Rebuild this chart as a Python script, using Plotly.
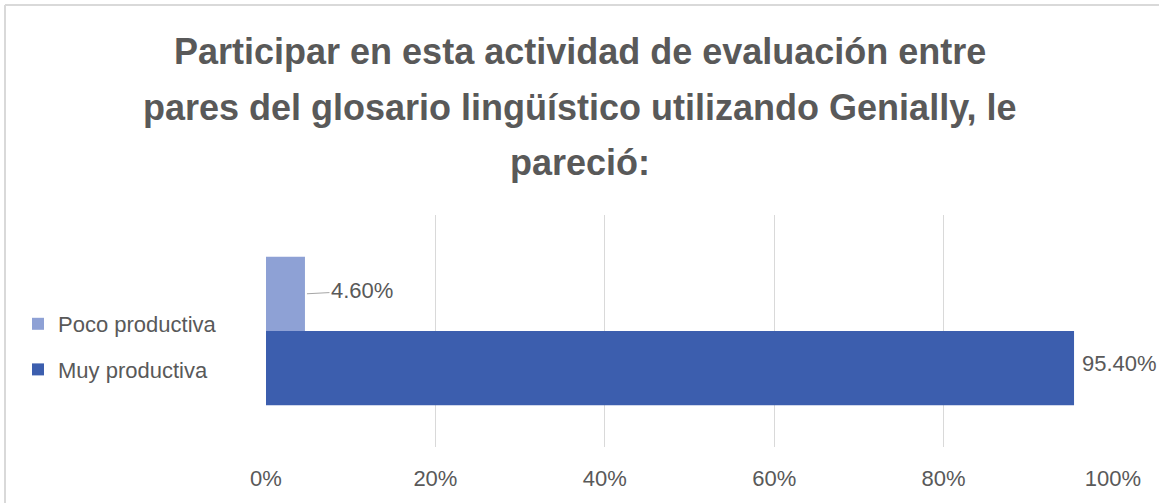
import plotly.graph_objects as go

# Data
series_names = ["Poco productiva", "Muy productiva"]
series_values = [4.6, 95.4]
series_labels = ["4.60%", "95.40%"]
series_colors = ["#8EA1D5", "#3C5EAE"]
tick_values = [0, 20, 40, 60, 80, 100]
tick_labels = ["0%", "20%", "40%", "60%", "80%", "100%"]
title_lines = [
    "Participar en esta actividad de evaluación entre",
    "pares del glosario lingüístico utilizando Genially, le",
    "pareció:",
]

W, H = 1159, 503
L, R, T, B = 266, 46, 215, 56
PW, PH = W - L - R, H - T - B

BAR_W = 0.32
offsets = [0.0, -BAR_W]   # Poco above the centre, Muy below

fig = go.Figure()
for i, (name, val, col) in enumerate(zip(series_names, series_values, series_colors)):
    fig.add_trace(go.Bar(
        name=name,
        x=[val],
        y=[0],
        orientation="h",
        width=[BAR_W],
        offset=[offsets[i]],
        marker=dict(color=col, line=dict(width=0)),
        legendgroup=name,
        hoverinfo="skip",
    ))

font_fam = "Liberation Sans, Arial, sans-serif"
text_col = "#595959"

annotations = []
# Poco productiva: label with leader line
annotations.append(dict(
    x=series_values[0], y=offsets[0] + BAR_W / 2, xref="x", yref="y",
    text=series_labels[0], showarrow=True, arrowhead=0, arrowwidth=1,
    arrowcolor="#A6A6A6", ax=57, ay=-3, standoff=2,
    font=dict(family=font_fam, size=22, color=text_col),
))
# Muy productiva: plain label to the right
annotations.append(dict(
    x=series_values[1], y=offsets[1] + BAR_W / 2, xref="x", yref="y",
    text=series_labels[1], showarrow=False, xanchor="left", yanchor="middle",
    xshift=6, yshift=5, font=dict(family=font_fam, size=22, color=text_col),
))
# Title lines
title_font = dict(family=font_fam, size=36, color=text_col)
for k, line in enumerate(title_lines):
    py = 52 + 55 * k
    annotations.append(dict(
        x=(W / 2 - L) / PW, y=(H - B - py) / PH, xref="paper", yref="paper",
        text=f"<b>{line}</b>", showarrow=False, xanchor="center", yanchor="middle",
        font=title_font,
    ))

fig.update_layout(
    width=W, height=H,
    margin=dict(l=L, r=R, t=T, b=B, pad=0, autoexpand=False),
    paper_bgcolor="white", plot_bgcolor="white",
    barmode="overlay",
    showlegend=True,
    legend=dict(
        xref="container", yref="container",
        x=18 / W, y=1 - 303 / H, xanchor="left", yanchor="top",
        traceorder="grouped", tracegroupgap=14,
        font=dict(family=font_fam, size=22, color=text_col),
        bgcolor="rgba(0,0,0,0)", itemwidth=30,
    ),
    xaxis=dict(
        range=[0, 100], tickvals=tick_values, ticktext=tick_labels,
        showgrid=True, gridcolor="#D9D9D9", gridwidth=1,
        zeroline=False, showline=False, automargin=False,
        ticks="outside", ticklen=12, tickcolor="rgba(0,0,0,0)",
        tickfont=dict(family=font_fam, size=22, color=text_col),
        fixedrange=True,
    ),
    yaxis=dict(
        range=[-0.5, 0.5], showticklabels=False, showgrid=False, automargin=False,
        zeroline=False, showline=False, ticks="", fixedrange=True,
    ),
    annotations=annotations,
    shapes=[
        dict(type="line", xref="paper", yref="paper",
             x0=(5 - L) / PW, x1=(W - L) / PW, y0=(H - B - 5) / PH, y1=(H - B - 5) / PH,
             line=dict(color="#D9D9D9", width=2)),
        dict(type="line", xref="paper", yref="paper",
             x0=(5 - L) / PW, x1=(5 - L) / PW, y0=(H - B - 5) / PH, y1=(H - B - H) / PH,
             line=dict(color="#D9D9D9", width=2)),
    ],
)

fig.write_html(
    "out.html",
    config={"displayModeBar": False},
    post_script="document.body.style.margin='0px';document.body.style.overflow='hidden';",
)
